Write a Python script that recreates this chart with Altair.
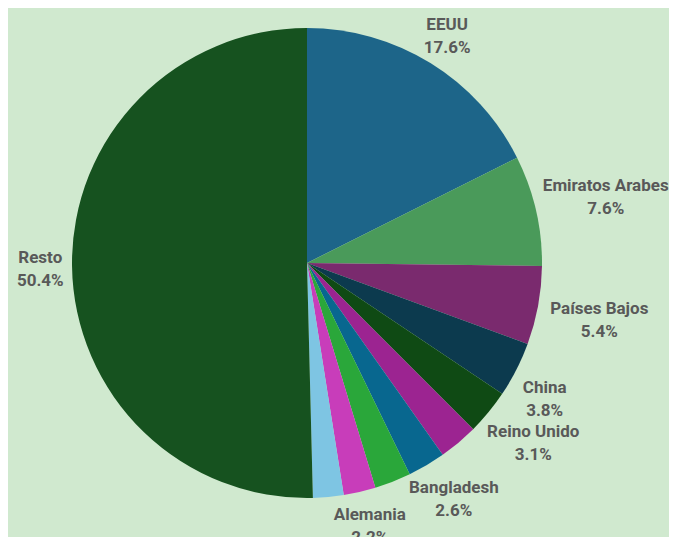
import altair as alt
import pandas as pd

# ---- data ----
paises = ["EEUU", "Emiratos Arabes", "Países Bajos", "China", "Reino Unido",
          "Otro 1", "Bangladesh", "Otro 2", "Alemania", "Otro 3", "Resto"]
porcentajes = [17.6, 7.6, 5.4, 3.8, 3.1, 2.7, 2.6, 2.5, 2.2, 2.1, 50.4]
etiqueta_visible = [True, True, True, True, True, False, True, False, True, False, True]
colores = ["#1d6589", "#4a9a5a", "#7a2a6e", "#0c3a4e", "#0f4a14", "#9c2491",
           "#08678f", "#2aa73a", "#c83dba", "#7ec5e3", "#16521f"]

df = pd.DataFrame({
    "pais": paises,
    "pct": porcentajes,
    "orden": list(range(len(paises))),
    "visible": etiqueta_visible,
})
df["etiqueta"] = [
    f"{p}\n{v:.1f}%" if s else "" for p, v, s in zip(paises, porcentajes, etiqueta_visible)
]

W, H = 598, 510
PAD_R, PAD_B = 63, 19
R = 235
R_LABEL = 245
BG = "#d0e9cf"
CHAR_W = 8.7      # approx. glyph width used to offset centred label blocks
BLOCK_H = 38      # approx. height of a two-line label block

base = alt.Chart(df)

arcs = base.mark_arc(outerRadius=R).encode(
    theta=alt.Theta("pct:Q", stack=True),
    order=alt.Order("orden:Q"),
    color=alt.Color("pais:N", scale=alt.Scale(domain=paises, range=colores), legend=None),
)

labels = base.transform_joinaggregate(
    total="sum(pct)"
).transform_window(
    acum="sum(pct)", sort=[alt.SortField("orden")], frame=[None, 0]
).transform_calculate(
    ang="(datum.acum - datum.pct/2) / datum.total * 2 * PI",
    hw=f"max(length(datum.pais), length(format(datum.pct, '.1f')) + 1) * {CHAR_W} / 2",
).transform_calculate(
    lx=f"min({W/2} + {R_LABEL} * sin(datum.ang) + sin(datum.ang) * datum.hw, {W + PAD_R} - datum.hw + 2)",
    ly=f"{H/2} - {R_LABEL} * cos(datum.ang) - {BLOCK_H} * clamp(0.45 + 1.5 * cos(datum.ang), -0.15, 1)",
).transform_filter(
    "datum.visible"
).mark_text(
    font="Roboto", fontSize=17, fontWeight="bold", color="#595959",
    lineBreak="\n", lineHeight=23, align="center", baseline="top",
).encode(
    x=alt.X("lx:Q", scale=None),
    y=alt.Y("ly:Q", scale=None),
    text="etiqueta:N",
)

chart = alt.layer(arcs, labels).properties(
    width=W, height=H,
    autosize=alt.AutoSizeParams(type="none"),
    padding={"left": 0, "top": 0, "right": PAD_R, "bottom": PAD_B},
    background=BG,
).configure_view(stroke=None)

chart.save("out.html", embed_options={"renderer": "svg", "actions": False})
